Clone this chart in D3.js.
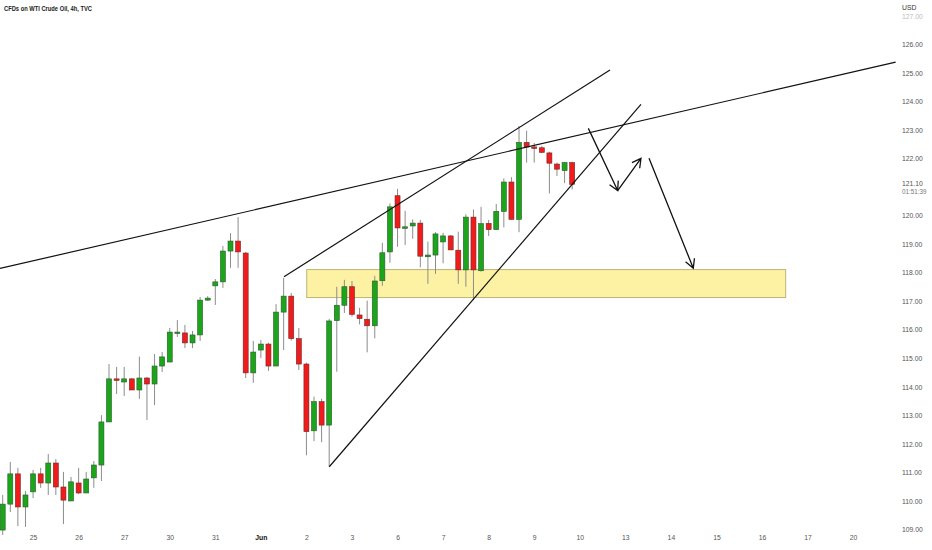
<!DOCTYPE html>
<html>
<head>
<meta charset="utf-8">
<script src="https://cdn.jsdelivr.net/npm/d3@7"></script>
<style>
  html, body { margin: 0; padding: 0; background: #fff; }
  #chart { width: 932px; height: 550px; }
  .axis text { font-family: "Liberation Sans", Arial, sans-serif; fill: #555; }
  .axis path, .axis line { display: none; }
</style>
</head>
<body>
<div id="chart"></div>
<script>
// 4h candles
const opens  = [108.98,109.89,110.95,109.79,110.32,110.95,110.63,111.33,110.49,110.00,110.63,110.28,110.81,111.26,112.77,114.28,114.17,114.28,113.89,114.31,
                114.10,114.73,114.87,115.90,115.89,115.54,115.82,117.04,117.54,117.68,118.76,119.11,118.69,114.49,115.29,115.50,114.73,116.62,117.18,115.69,
                114.80,112.46,113.48,112.66,116.32,116.86,117.51,116.52,116.37,116.14,117.72,118.73,120.70,119.56,119.64,119.74,118.56,118.62,119.08,119.29,
                118.79,118.10,119.95,118.07,119.73,119.51,120.15,121.18,119.87,122.57,122.41,122.38,122.20,121.81,121.58,121.86];
const highs  = [110.21,111.37,111.16,110.35,111.09,111.16,111.65,111.47,111.02,110.84,111.16,111.02,111.40,113.01,114.80,114.70,114.70,114.31,115.06,114.35,
                115.15,115.22,116.06,116.34,116.17,115.96,117.15,117.18,117.78,118.94,119.39,119.95,118.73,115.61,115.64,115.55,116.90,117.82,117.29,116.06,
                114.85,113.66,113.58,116.38,117.51,117.75,117.71,116.77,117.02,117.89,119.05,120.43,120.94,120.17,119.87,119.85,119.09,119.42,119.40,119.32,
                119.44,120.05,120.22,120.31,119.85,120.41,121.31,121.35,123.14,122.98,122.55,122.44,122.24,121.86,121.89,121.89];
const lows   = [108.81,109.61,109.12,109.09,110.10,110.46,110.21,110.21,109.19,110.00,110.24,110.28,110.46,110.70,112.77,113.75,113.68,113.89,113.58,112.84,
                113.36,114.52,114.87,115.75,115.36,115.36,115.61,117.01,116.87,117.47,118.17,118.17,114.31,114.14,115.01,114.56,114.73,115.29,115.62,114.59,
                111.60,112.10,112.06,111.20,114.53,116.59,116.46,116.19,115.21,115.70,117.54,118.35,118.91,118.97,119.19,118.19,117.61,117.96,118.33,118.80,
                117.61,117.51,117.04,118.04,119.29,119.51,119.59,119.87,119.42,121.86,121.86,122.19,120.78,121.39,121.14,120.92];
const closes = [109.89,110.95,109.79,110.21,110.95,110.63,111.33,110.49,110.03,110.67,110.28,110.77,111.26,112.77,114.28,114.24,114.28,113.89,114.31,114.10,
                114.73,115.05,115.92,115.92,115.54,115.82,117.04,117.11,117.68,118.76,119.11,118.73,114.49,115.22,115.50,114.73,116.62,117.18,115.69,114.80,
                112.43,113.48,112.66,116.31,116.86,117.51,116.54,116.39,116.14,117.71,118.70,120.31,119.57,119.61,119.74,118.58,118.62,119.36,119.29,118.80,
                118.10,119.95,118.10,119.72,119.51,120.15,121.18,119.87,122.57,122.41,122.37,122.22,121.84,121.63,121.86,121.10];

// date labels sit on the first bar of each day (6 bars per day)
const dayLabels = ["25","26","27","30","31","Jun","2","3","6","7","8","9","10","13","14","15","16","17","20"];
const dayBars   = [4,10,16,22,28,34,40,46,52,58,64,70,76,82,88,94,100,106,112];

const priceTicks = [109,110,111,112,113,114,115,116,117,118,119,120,122,123,124,125,126,127];
const lastPrice = 121.10;
const countdown = "01:51:39";

// drawings, in [bar, price]
const trendLines = [
  [[-0.36, 118.15], [117.6, 125.38]],
  [[37.05, 117.86], [79.98, 125.11]],
  [[43.01, 111.20], [84.06, 123.90]]
];
const arrows = [
  [[77.13, 123.06], [80.99, 120.88]],
  [[80.99, 120.88], [84.06, 122.01]],
  [[85.12, 122.01], [90.95, 118.16]]
];
const zone = { bar0: 40.04, bar1: 103.12, top: 118.11, bottom: 117.13 };

const W = 932, H = 550;
const svg = d3.select('#chart').append('svg').attr('width', W).attr('height', H);

const x = d3.scaleLinear().domain([0, 75]).range([2.7, 2.7 + 75 * 7.593]);
const y = d3.scaleLinear().domain([109, 126]).range([529.5, 44.5]);

const candles = opens.map((o, i) => ({ i, o, h: highs[i], l: lows[i], c: closes[i] }));

// support zone
svg.append('rect')
  .attr('x', x(zone.bar0)).attr('y', y(zone.top))
  .attr('width', x(zone.bar1) - x(zone.bar0))
  .attr('height', y(zone.bottom) - y(zone.top))
  .attr('fill', '#fdf2a4')
  .attr('stroke', '#bfb274')
  .attr('stroke-width', 1);

// wicks
svg.append('g').selectAll('line')
  .data(candles)
  .join('line')
  .attr('x1', d => x(d.i)).attr('x2', d => x(d.i))
  .attr('y1', d => y(d.h)).attr('y2', d => y(d.l))
  .attr('stroke', '#8c8c8c')
  .attr('stroke-width', 1);

// bodies
const bw = 5;
svg.append('g').selectAll('rect')
  .data(candles)
  .join('rect')
  .attr('x', d => x(d.i) - bw / 2)
  .attr('y', d => y(Math.max(d.o, d.c)))
  .attr('width', bw)
  .attr('height', d => Math.max(1.5, Math.abs(y(d.o) - y(d.c))))
  .attr('fill', d => d.c >= d.o ? '#1aa51a' : '#f21b1b')
  .attr('stroke', d => d.c >= d.o ? '#2d5a2d' : '#6a2a2a')
  .attr('stroke-width', 0.6);

// trend lines
const lineG = svg.append('g');
lineG.selectAll('line')
  .data(trendLines)
  .join('line')
  .attr('x1', d => x(d[0][0])).attr('y1', d => y(d[0][1]))
  .attr('x2', d => x(d[1][0])).attr('y2', d => y(d[1][1]))
  .attr('stroke', '#111')
  .attr('stroke-width', 1.2);

// arrows with open heads
arrows.forEach(a => {
  const x1 = x(a[0][0]), y1 = y(a[0][1]), x2 = x(a[1][0]), y2 = y(a[1][1]);
  const ang = Math.atan2(y2 - y1, x2 - x1);
  const len = 10, spread = 0.5;
  const p = d3.path();
  p.moveTo(x1, y1); p.lineTo(x2, y2);
  p.moveTo(x2 - len * Math.cos(ang - spread), y2 - len * Math.sin(ang - spread));
  p.lineTo(x2, y2);
  p.lineTo(x2 - len * Math.cos(ang + spread), y2 - len * Math.sin(ang + spread));
  lineG.append('path')
    .attr('d', p.toString())
    .attr('fill', 'none')
    .attr('stroke', '#111')
    .attr('stroke-width', 1.3);
});

// price scale
const yAxis = svg.append('g').attr('class', 'axis')
  .attr('transform', 'translate(902,0)')
  .call(d3.axisRight(y).tickValues(priceTicks).tickFormat(d3.format('.2f')).tickSize(0).tickPadding(0));
yAxis.selectAll('text').style('font-size', '6.8px').attr('dy', '0.32em');
yAxis.selectAll('.tick').filter(d => d === 127).select('text').style('fill', '#bbb');

svg.append('text').attr('x', 902).attr('y', 10)
  .style('font-family', '"Liberation Sans", Arial, sans-serif').style('font-size', '6.8px').style('fill', '#333')
  .text('USD');
svg.append('text').attr('x', 902).attr('y', y(lastPrice) + 2)
  .style('font-family', '"Liberation Sans", Arial, sans-serif').style('font-size', '6.8px').style('fill', '#555')
  .text(lastPrice.toFixed(2));
svg.append('text').attr('x', 902).attr('y', y(lastPrice) + 10)
  .style('font-family', '"Liberation Sans", Arial, sans-serif').style('font-size', '6.3px').style('fill', '#777')
  .text(countdown);

// time scale
const xAxis = svg.append('g').attr('class', 'axis')
  .attr('transform', 'translate(0,538)')
  .call(d3.axisBottom(x).tickValues(dayBars).tickFormat((d, k) => dayLabels[k]).tickSize(0).tickPadding(0));
xAxis.selectAll('text').style('font-size', '6.8px').attr('dy', '0.32em')
  .style('font-weight', (d, k) => dayLabels[k] === 'Jun' ? 'bold' : 'normal')
  .style('fill', (d, k) => dayLabels[k] === 'Jun' ? '#111' : '#555');

// title
svg.append('text').attr('x', 4).attr('y', 11)
  .style('font-family', '"Liberation Sans", Arial, sans-serif').style('font-size', '7.4px').style('font-weight', 'bold').style('fill', '#222')
  .attr('textLength', 88).attr('lengthAdjust', 'spacingAndGlyphs')
  .text('CFDs on WTI Crude Oil, 4h, TVC');
</script>
</body>
</html>
